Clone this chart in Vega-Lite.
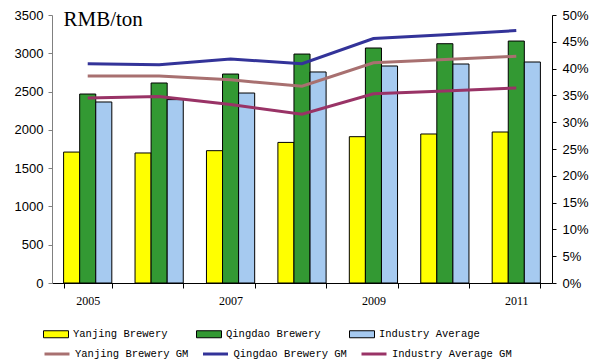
{
  "$schema": "https://vega.github.io/schema/vega-lite/v6.json",
  "width": 500,
  "height": 268,
  "autosize": {"type": "none"},
  "padding": {"left": 52, "top": 15, "right": 41, "bottom": 77},
  "background": "white",
  "datasets": {
    "bars": [
      {"year": 2005, "brand": "Yanjing Brewery", "price": 1710},
      {"year": 2005, "brand": "Qingdao Brewery", "price": 2468},
      {"year": 2005, "brand": "Industry Average", "price": 2364},
      {"year": 2006, "brand": "Yanjing Brewery", "price": 1698},
      {"year": 2006, "brand": "Qingdao Brewery", "price": 2612},
      {"year": 2006, "brand": "Industry Average", "price": 2395},
      {"year": 2007, "brand": "Yanjing Brewery", "price": 1728},
      {"year": 2007, "brand": "Qingdao Brewery", "price": 2729},
      {"year": 2007, "brand": "Industry Average", "price": 2481},
      {"year": 2008, "brand": "Yanjing Brewery", "price": 1836},
      {"year": 2008, "brand": "Qingdao Brewery", "price": 2990},
      {"year": 2008, "brand": "Industry Average", "price": 2756},
      {"year": 2009, "brand": "Yanjing Brewery", "price": 1911},
      {"year": 2009, "brand": "Qingdao Brewery", "price": 3069},
      {"year": 2009, "brand": "Industry Average", "price": 2834},
      {"year": 2010, "brand": "Yanjing Brewery", "price": 1946},
      {"year": 2010, "brand": "Qingdao Brewery", "price": 3125},
      {"year": 2010, "brand": "Industry Average", "price": 2860},
      {"year": 2011, "brand": "Yanjing Brewery", "price": 1972},
      {"year": 2011, "brand": "Qingdao Brewery", "price": 3160},
      {"year": 2011, "brand": "Industry Average", "price": 2886}
    ],
    "lines": [
      {"year": 2005, "metric": "Yanjing Brewery GM", "gm": 0.386},
      {"year": 2006, "metric": "Yanjing Brewery GM", "gm": 0.386},
      {"year": 2007, "metric": "Yanjing Brewery GM", "gm": 0.379},
      {"year": 2008, "metric": "Yanjing Brewery GM", "gm": 0.367},
      {"year": 2009, "metric": "Yanjing Brewery GM", "gm": 0.411},
      {"year": 2010, "metric": "Yanjing Brewery GM", "gm": 0.417},
      {"year": 2011, "metric": "Yanjing Brewery GM", "gm": 0.423},
      {"year": 2005, "metric": "Qingdao Brewery GM", "gm": 0.409},
      {"year": 2006, "metric": "Qingdao Brewery GM", "gm": 0.407},
      {"year": 2007, "metric": "Qingdao Brewery GM", "gm": 0.418},
      {"year": 2008, "metric": "Qingdao Brewery GM", "gm": 0.409},
      {"year": 2009, "metric": "Qingdao Brewery GM", "gm": 0.456},
      {"year": 2010, "metric": "Qingdao Brewery GM", "gm": 0.463},
      {"year": 2011, "metric": "Qingdao Brewery GM", "gm": 0.471},
      {"year": 2005, "metric": "Industry Average GM", "gm": 0.345},
      {"year": 2006, "metric": "Industry Average GM", "gm": 0.348},
      {"year": 2007, "metric": "Industry Average GM", "gm": 0.333},
      {"year": 2008, "metric": "Industry Average GM", "gm": 0.315},
      {"year": 2009, "metric": "Industry Average GM", "gm": 0.353},
      {"year": 2010, "metric": "Industry Average GM", "gm": 0.358},
      {"year": 2011, "metric": "Industry Average GM", "gm": 0.364}
    ]
  },
  "config": {
    "view": {"stroke": null},
    "axis": {"grid": false, "labelColor": "black", "titleColor": "black"},
    "legend": {
      "orient": "none",
      "direction": "horizontal",
      "title": null,
      "padding": 0,
      "labelFont": "Liberation Mono",
      "labelFontSize": 10.5,
      "labelColor": "black",
      "labelOffset": 4,
      "labelLimit": 300
    }
  },
  "layer": [
    {
      "data": {"name": "bars"},
      "mark": {"type": "bar", "stroke": "black", "strokeWidth": 1},
      "encoding": {
        "x": {
          "field": "year",
          "type": "ordinal",
          "scale": {"paddingInner": 0.325, "paddingOuter": 0.1625},
          "axis": {
            "title": null,
            "labelAngle": 0,
            "labelExpr": "datum.value % 2 == 1 ? datum.label : ''",
            "tickBand": "extent",
            "tickSize": 5,
            "tickColor": "black",
            "domainColor": "black",
            "labelFont": "Liberation Serif",
            "labelFontSize": 12,
            "labelPadding": 7
          }
        },
        "xOffset": {
          "field": "brand",
          "type": "nominal",
          "sort": ["Yanjing Brewery", "Qingdao Brewery", "Industry Average"],
          "scale": {"paddingInner": 0, "paddingOuter": 0}
        },
        "y": {
          "field": "price",
          "type": "quantitative",
          "scale": {"domain": [0, 3500], "nice": false},
          "axis": {
            "values": [0, 500, 1000, 1500, 2000, 2500, 3000, 3500],
            "format": "d",
            "tickSize": 4,
            "tickColor": "#808080",
            "domainColor": "#808080",
            "labelFont": "Liberation Sans",
            "labelFontSize": 13,
            "labelPadding": 5,
            "title": "RMB/ton",
            "titleAngle": 0,
            "titleX": 11,
            "titleY": 10,
            "titleAlign": "left",
            "titleBaseline": "alphabetic",
            "titleFont": "Liberation Serif",
            "titleFontSize": 21,
            "titleFontWeight": "normal"
          }
        },
        "fill": {
          "field": "brand",
          "type": "nominal",
          "scale": {
            "domain": ["Yanjing Brewery", "Qingdao Brewery", "Industry Average"],
            "range": ["#FFFF00", "#339933", "#A6CAF0"]
          },
          "legend": {
            "legendX": -9,
            "legendY": 306,
            "columns": 3,
            "columnPadding": 26,
            "symbolType": "M-1,-0.28H1V0.28H-1Z",
            "symbolSize": 625,
            "symbolStrokeColor": "black",
            "symbolStrokeWidth": 1,
            "symbolOpacity": 1
          }
        }
      }
    },
    {
      "data": {"name": "lines"},
      "mark": {"type": "line", "strokeWidth": 3},
      "encoding": {
        "x": {"field": "year", "type": "ordinal"},
        "y": {
          "field": "gm",
          "type": "quantitative",
          "scale": {"domain": [0, 0.5], "nice": false},
          "axis": {
            "orient": "right",
            "title": null,
            "format": ".0%",
            "values": [0, 0.05, 0.1, 0.15, 0.2, 0.25, 0.3, 0.35, 0.4, 0.45, 0.5],
            "tickSize": 4,
            "tickColor": "black",
            "domainColor": "black",
            "labelFont": "Liberation Sans",
            "labelFontSize": 13,
            "labelPadding": 6
          }
        },
        "stroke": {
          "field": "metric",
          "type": "nominal",
          "scale": {
            "domain": ["Yanjing Brewery GM", "Qingdao Brewery GM", "Industry Average GM"],
            "range": ["#A87070", "#333399", "#993366"]
          },
          "legend": {
            "legendX": -9,
            "legendY": 325,
            "columns": 3,
            "columnPadding": 7.5,
            "symbolType": "stroke",
            "symbolSize": 625,
            "symbolStrokeWidth": 3
          }
        }
      }
    }
  ],
  "resolve": {"scale": {"y": "independent"}}
}
